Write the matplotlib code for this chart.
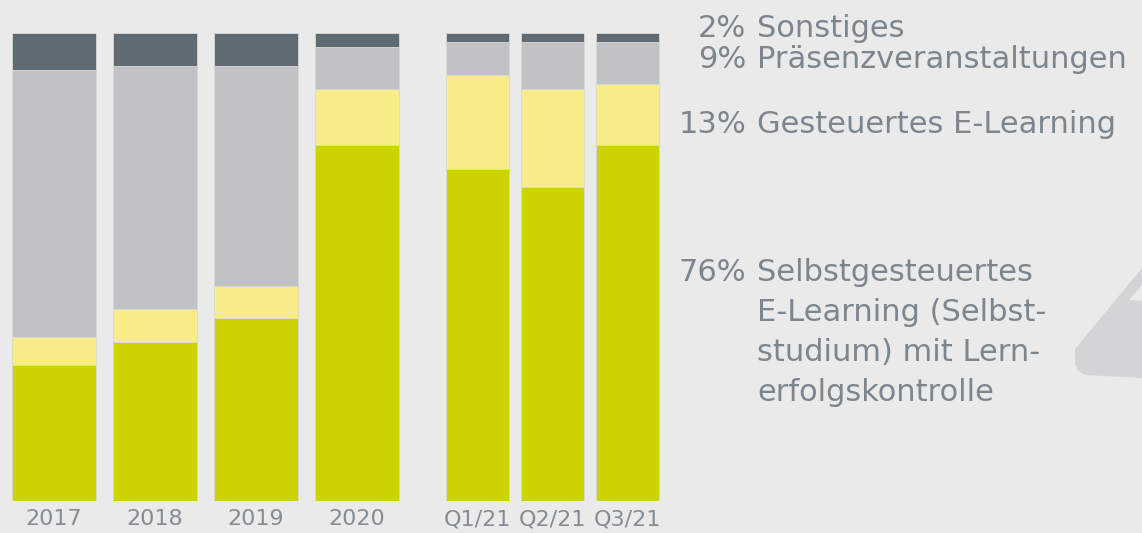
import matplotlib.pyplot as plt
from matplotlib.patches import Polygon
import numpy as np

# shares in percent
categories = ['2017', '2018', '2019', '2020', 'Q1/21', 'Q2/21', 'Q3/21']
selbst = [29, 34, 39, 76, 71, 67, 76]       # Selbstgesteuertes E-Learning
gesteuert = [6, 7, 7, 12, 20, 21, 13]       # Gesteuertes E-Learning
praesenz = [57, 52, 47, 9, 7, 10, 9]        # Präsenzveranstaltungen
sonstiges = [8, 7, 7, 3, 2, 2, 2]           # Sonstiges

legend_pct = ['2%', '9%', '13%', '76%']
legend_txt = [['Sonstiges'], ['Präsenzveranstaltungen'], ['Gesteuertes E-Learning'],
              ['Selbstgesteuertes', 'E-Learning (Selbst-', 'studium) mit Lern-', 'erfolgskontrolle']]

BG = '#eaeaea'
COLORS = ['#cbd300', '#f7ec88', '#c1c2c6', '#5f6a73']
TXT = '#7d858e'

W, H = 1142, 533
fig = plt.figure(figsize=(W / 100, H / 100), dpi=100)
fig.patch.set_facecolor(BG)

# axes spans full width, bars from y=33px to y=501px
ax = fig.add_axes([0, (H - 501) / H, 1, 468 / H])
ax.set_facecolor(BG)
for s in ax.spines.values():
    s.set_visible(False)

unit = 101.0
x = np.array([0, 1, 2, 3, 4.193, 4.936, 5.678])
widths = np.array([0.83] * 4 + [0.624] * 3)

bottom = np.zeros(len(categories))
for vals, col in zip([selbst, gesteuert, praesenz, sonstiges], COLORS):
    ax.bar(x, vals, width=widths, bottom=bottom, color=col,
           edgecolor='#d9d9d2', linewidth=0.6)
    bottom += np.array(vals)

ax.set_xlim(-54 / unit, (W - 54) / unit)
ax.set_ylim(0, 100)
ax.set_yticks([])
ax.set_xticks(x)
ax.set_xticklabels(categories, fontsize=16, color='#858c94', family='DejaVu Sans')
ax.tick_params(axis='x', length=0, pad=6)

# legend text at the right
baselines = [37, 68, 133, 281]
for pct, lines, yb in zip(legend_pct, legend_txt, baselines):
    fig.text(746 / W, 1 - yb / H, pct, ha='right', va='baseline',
             fontsize=22, color=TXT)
    for i, line in enumerate(lines):
        fig.text(757 / W, 1 - (yb + 40 * i) / H, line, ha='left', va='baseline',
                 fontsize=22, color=TXT)

# decorative shape at the right edge
outer = [(1142, 268), (1075, 349), (1075, 364), (1078, 371), (1085, 375), (1142, 378)]
inner = [(1129, 300), (1142, 285), (1142, 301)]
for pts, col in [(outer, '#d3d4d6'), (inner, BG)]:
    fig.patches.append(Polygon([(px / W, 1 - py / H) for px, py in pts],
                               closed=True, transform=fig.transFigure,
                               facecolor=col, edgecolor='none'))

fig.savefig('out.png', dpi=100, facecolor=BG)
